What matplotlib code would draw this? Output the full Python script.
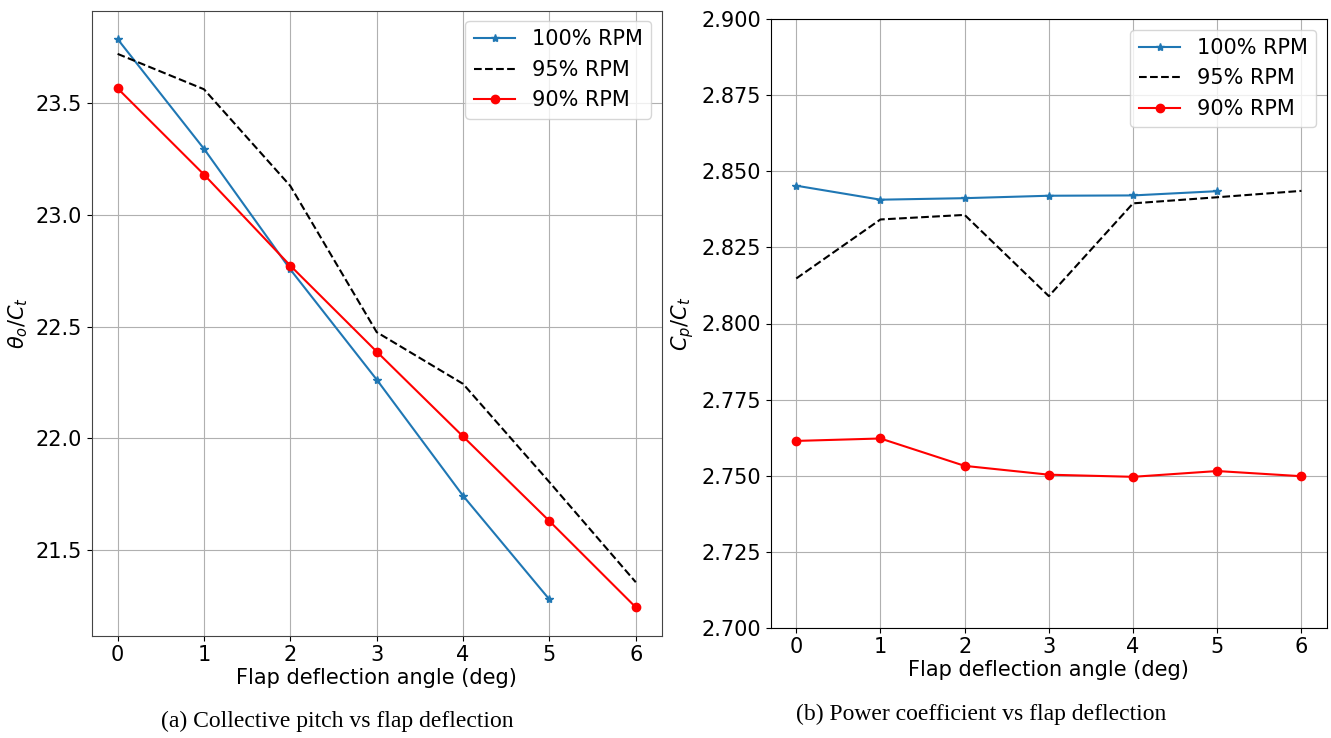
import matplotlib
matplotlib.use("Agg")
from matplotlib import pyplot as plt

# data
flap = [0, 1, 2, 3, 4, 5, 6]
flap_100 = [0, 1, 2, 3, 4, 5]

pitch_100 = [23.784, 23.294, 22.755, 22.263, 21.744, 21.281]
pitch_95 = [23.718, 23.560, 23.128, 22.475, 22.244, 21.805, 21.358]
pitch_90 = [23.564, 23.179, 22.772, 22.388, 22.009, 21.631, 21.246]

cp_100 = [2.8453, 2.8407, 2.8412, 2.8420, 2.8421, 2.8435]
cp_95 = [2.8148, 2.8342, 2.8357, 2.8090, 2.8395, 2.8415, 2.8436]
cp_90 = [2.7614, 2.7622, 2.7532, 2.7503, 2.7496, 2.7515, 2.7498]

labels = ["100% RPM", "95% RPM", "90% RPM"]

plt.rcParams["font.size"] = 15

fig = plt.figure(figsize=(13.31, 7.38), dpi=100)
W, H = 1331.0, 738.0

# left panel ---------------------------------------------------------------
ax1 = fig.add_axes([91.7/W, 1-635.7/H, (661.7-91.7)/W, (635.7-10.7)/H])
ax1.plot(flap_100, pitch_100, "*-", color="tab:blue", markersize=6, label=labels[0])
ax1.plot(flap, pitch_95, "k--", label=labels[1])
ax1.plot(flap, pitch_90, "ro-", markersize=6, label=labels[2])
ax1.set_yticks([21.5, 22.0, 22.5, 23.0, 23.5])
ax1.set_xticks(flap)
ax1.set_xlabel("Flap deflection angle (deg)", labelpad=2)
ax1.set_ylabel(r"$\theta_o/C_t$")
ax1.grid(True)
ax1.legend(loc="upper right")
for s in ax1.spines.values():
    s.set_color("#444444")

# right panel --------------------------------------------------------------
ax2 = fig.add_axes([771/W, 1-627.7/H, (1326.7-771)/W, (627.7-19.3)/H])
ax2.plot(flap_100, cp_100, "*-", color="tab:blue", markersize=6, label=labels[0])
ax2.plot(flap, cp_95, "k--", label=labels[1])
ax2.plot(flap, cp_90, "ro-", markersize=6, label=labels[2])
ax2.set_ylim(2.7, 2.9)
ax2.set_yticks([2.700, 2.725, 2.750, 2.775, 2.800, 2.825, 2.850, 2.875, 2.900])
ax2.yaxis.set_major_formatter(matplotlib.ticker.FormatStrFormatter("%.3f"))
ax2.set_xticks(flap)
ax2.set_xlabel("Flap deflection angle (deg)", labelpad=2)
ax2.set_ylabel(r"$C_p/C_t$")
ax2.grid(True)
ax2.legend(loc="upper right")

# captions
fig.text(337/W, 1-721/H, "(a) Collective pitch vs flap deflection",
         family="Liberation Serif", fontsize=17, ha="center", va="center")
fig.text(981/W, 1-714/H, "(b) Power coefficient vs flap deflection",
         family="Liberation Serif", fontsize=17, ha="center", va="center")

plt.savefig("out.png", dpi=100)
plt.close()
